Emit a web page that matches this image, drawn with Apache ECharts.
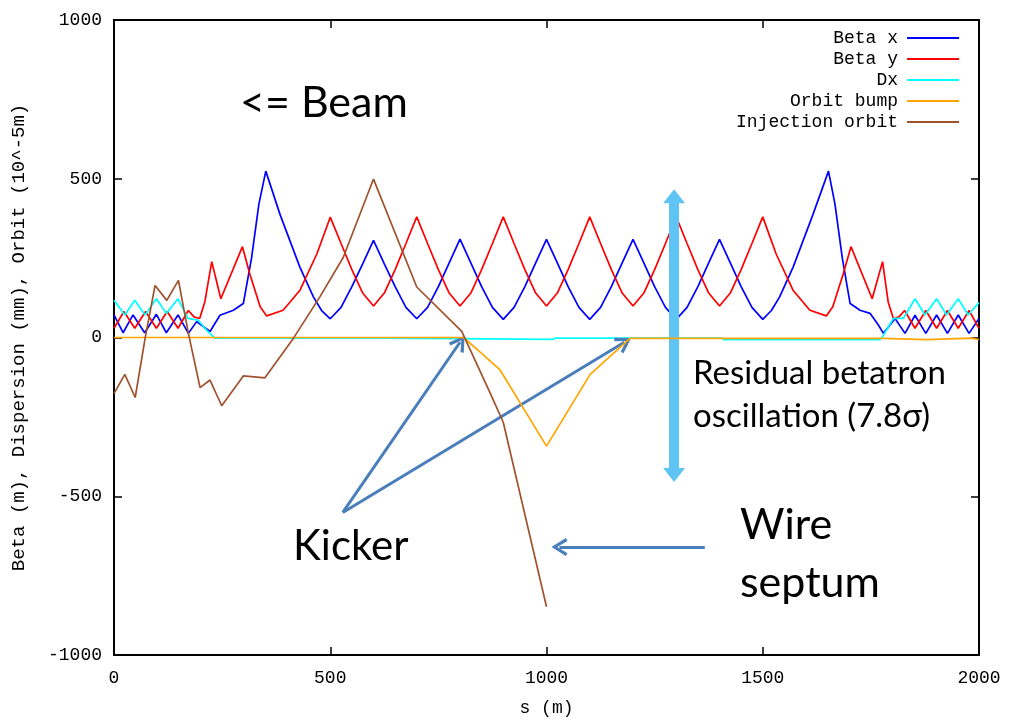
<!DOCTYPE html>
<html>
<head>
<meta charset="utf-8">
<script src="https://cdn.jsdelivr.net/npm/echarts@6/dist/echarts.min.js"></script>
<style>
html,body{margin:0;padding:0;background:#fff;}
#chart{width:1009px;height:722px;}
</style>
</head>
<body>
<div id="chart"></div>
<script>
// ---- data: [s (m), value] ----
const seriesNames = ['Beta x', 'Beta y', 'Dx', 'Orbit bump', 'Injection orbit'];
const xTicks = [0, 500, 1000, 1500, 2000];
const yTicks = [-1000, -500, 0, 500, 1000];

const betaX = [[0,71],[21,15],[44,71],[71,15],[98,73],[121,15],[148,71],[172,13],[191,50],[222,19],[245,70],[276,86],[299,107],[318,250],[335,420],[351,524],[384,387],[430,221],[461,128],[480,85],[500,59],[525,95],[550,160],[575,232],[600,306],[625,232],[650,160],[675,95],[700,59],[725,95],[750,160],[775,235],[800,310],[825,235],[850,160],[875,95],[900,57],[925,95],[950,160],[975,235],[1000,309],[1025,235],[1050,160],[1075,95],[1100,57],[1125,95],[1150,160],[1175,235],[1200,309],[1225,235],[1250,160],[1275,95],[1300,57],[1325,95],[1350,160],[1375,235],[1400,309],[1425,235],[1450,160],[1475,95],[1500,57],[1520,85],[1539,128],[1570,221],[1616,387],[1652,524],[1667,420],[1684,250],[1702,107],[1725,86],[1748,76],[1767,40],[1779,13],[1806,60],[1829,13],[1852,70],[1877,13],[1902,71],[1927,13],[1952,71],[1977,13],[2000,60]];

const betaY = [[0,29],[23,82],[48,29],[73,82],[98,29],[123,82],[148,29],[172,85],[185,65],[198,60],[210,112],[226,239],[247,122],[297,286],[314,200],[338,97],[353,68],[391,86],[430,149],[469,263],[500,379],[525,296],[550,214],[575,140],[600,99],[625,140],[650,214],[675,296],[700,380],[725,296],[750,214],[775,140],[800,99],[825,140],[850,214],[875,296],[900,380],[925,296],[950,214],[975,140],[1000,99],[1025,140],[1050,214],[1075,296],[1100,380],[1125,296],[1150,214],[1175,140],[1200,99],[1225,140],[1250,214],[1275,296],[1300,380],[1325,296],[1350,214],[1375,140],[1400,99],[1425,140],[1450,214],[1475,296],[1500,380],[1531,263],[1570,149],[1609,86],[1647,68],[1662,97],[1686,200],[1704,286],[1753,122],[1777,239],[1790,112],[1802,60],[1815,65],[1828,85],[1852,29],[1877,85],[1902,29],[1927,85],[1952,29],[1977,85],[2000,29]];

const dx = [[0,117],[25,71],[48,117],[72,71],[98,122],[121,76],[148,122],[171,60],[194,55],[217,19],[233,-2],[630,-2],[632,-6],[1015,-6],[1020,-2],[1405,-2],[1410,-7],[1770,-7],[1775,-2],[1802,60],[1825,60],[1852,122],[1875,71],[1902,122],[1925,71],[1952,122],[1975,71],[2000,110]];

const orbitBump = [[0,0],[808,0],[850,-50],[892,-101],[1000,-342],[1101,-116],[1193,-3],[1778,-3],[1782,-7],[1880,-7],[1884,-2],[1983,-2],[1987,-7],[2000,-7]];

const injectionOrbit = [[0,-177],[25,-116],[49,-189],[72,-2],[95,164],[122,117],[149,180],[172,13],[199,-158],[222,-134],[249,-215],[299,-121],[349,-127],[415,-2],[476,128],[530,252],[600,499],[700,159],[804,19],[869,-173],[900,-267],[1000,-848]];

// annotation arrows, in data coordinates [s, value]
const kickerArrows = [[[529,-551],[800,-15]],[[529,-551],[1180,-15]]];
const septumArrow = [[1366,-660],[1030,-660]];
const residualArrow = [[1295,445],[1295,-433]];

const colors = ['#0000ff', '#ff0000', '#00ffff', '#ffa500', '#a0522d'];
const dataList = [betaX, betaY, dx, orbitBump, injectionOrbit];

const monoFont = 'Liberation Mono';
const annFont = 'Lato';
const openArrow = 'path://M0,9 L5,0 L10,9 L8.4,10 L5,3.6 L1.6,10 Z';

const chart = echarts.init(document.getElementById('chart'), null, {renderer: 'canvas'});

const axisCommon = {
  type: 'value',
  axisLine: {show: true, onZero: false, lineStyle: {color: '#000', width: 2}},
  axisTick: {show: true, inside: true, length: 8, lineStyle: {color: '#000', width: 1.5}},
  splitLine: {show: false}
};

const series = dataList.map((d, i) => ({
  name: seriesNames[i],
  type: 'line',
  data: d,
  showSymbol: false,
  symbol: 'none',
  lineStyle: {color: colors[i], width: 1.7},
  itemStyle: {color: colors[i]},
  z: 2 + i,
  animation: false
}));

series.push({
  type: 'line', data: [], silent: true, animation: false, z: 20,
  markLine: {
    silent: true, animation: false,
    symbol: ['triangle', 'triangle'], symbolSize: [22, 14],
    label: {show: false},
    lineStyle: {color: '#5fc4f3', width: 10, type: 'solid'},
    emphasis: {disabled: true},
    data: [[{coord: residualArrow[0]}, {coord: residualArrow[1]}]]
  }
});
series.push({
  type: 'line', data: [], silent: true, animation: false, z: 21,
  markLine: {
    silent: true, animation: false,
    symbol: ['none', openArrow], symbolSize: [18, 16],
    label: {show: false},
    lineStyle: {color: '#4a7ebb', width: 3, type: 'solid'},
    emphasis: {disabled: true},
    data: kickerArrows.map(a => [{coord: a[0]}, {coord: a[1]}]).concat([[{coord: septumArrow[0]}, {coord: septumArrow[1]}]])
  }
});

const legendTops = [29, 50, 71, 92, 113];
const legends = seriesNames.map((n, i) => ({
  data: [n],
  right: 50,
  top: legendTops[i],
  align: 'right',
  orient: 'vertical',
  icon: 'rect',
  itemWidth: 52,
  itemHeight: 2,
  itemGap: 12,
  padding: 0,
  selectedMode: false,
  textStyle: {fontFamily: monoFont, fontSize: 18, color: '#000', padding: [0, 4, 0, 0]}
}));

const option = {
  animation: false,
  backgroundColor: '#fff',
  grid: {left: 114, right: 30, top: 20, bottom: 60, containLabel: false},
  legend: legends,
  xAxis: [
    Object.assign({}, axisCommon, {
      position: 'bottom', min: 0, max: 2000, interval: 500,
      name: 's (m)', nameLocation: 'middle', nameGap: 44,
      nameTextStyle: {fontFamily: monoFont, fontSize: 18, color: '#000'},
      axisLabel: {margin: 14, fontFamily: monoFont, fontSize: 18, color: '#000',
        formatter: v => xTicks.indexOf(v) >= 0 ? String(v) : ''}
    }),
    Object.assign({}, axisCommon, {
      position: 'top', min: 0, max: 2000, interval: 500,
      axisLabel: {show: false}
    })
  ],
  yAxis: [
    Object.assign({}, axisCommon, {
      position: 'left', min: -1000, max: 1000, interval: 500,
      name: 'Beta (m), Dispersion (mm), Orbit (10^-5m)', nameLocation: 'middle', nameGap: 86,
      nameTextStyle: {fontFamily: monoFont, fontSize: 19, color: '#000'},
      axisLabel: {margin: 12, fontFamily: monoFont, fontSize: 18, color: '#000',
        formatter: v => yTicks.indexOf(v) >= 0 ? String(v) : ''}
    }),
    Object.assign({}, axisCommon, {
      position: 'right', min: -1000, max: 1000, interval: 500,
      axisLabel: {show: false}
    })
  ],
  series: series,
  graphic: [
    {type: 'text', x: 240, y: 103, z: 100, style: {text: '<= Beam', fontFamily: annFont, fontSize: 43, fill: '#000', verticalAlign: 'middle', align: 'left'}},
    {type: 'text', x: 693, y: 373, z: 100, style: {text: 'Residual betatron', fontFamily: annFont, fontSize: 33, fill: '#000', verticalAlign: 'middle', align: 'left'}},
    {type: 'text', x: 693, y: 416, z: 100, style: {text: 'oscillation (7.8σ)', fontFamily: annFont, fontSize: 33, fill: '#000', verticalAlign: 'middle', align: 'left'}},
    {type: 'text', x: 293, y: 546, z: 100, style: {text: 'Kicker', fontFamily: annFont, fontSize: 42, fill: '#000', verticalAlign: 'middle', align: 'left'}},
    {type: 'text', x: 740, y: 525, z: 100, style: {text: 'Wire', fontFamily: annFont, fontSize: 43, fill: '#000', verticalAlign: 'middle', align: 'left'}},
    {type: 'text', x: 740, y: 583, z: 100, style: {text: 'septum', fontFamily: annFont, fontSize: 43, fill: '#000', verticalAlign: 'middle', align: 'left'}}
  ]
};
chart.setOption(option);
</script>
</body>
</html>
